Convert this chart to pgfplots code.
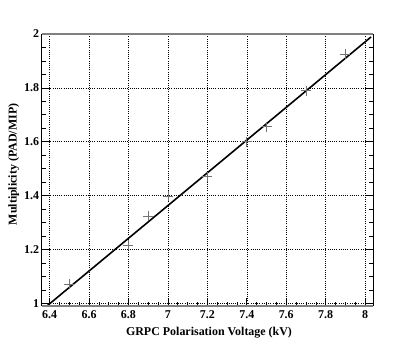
\documentclass[border=0pt]{standalone}
\usepackage{fontspec}
\setmainfont{Liberation Serif}
\usepackage{pgfplots}
\pgfplotsset{compat=1.18}
\begin{document}
\begin{tikzpicture}
\path[use as bounding box] (-41.7bp,-35.3bp) rectangle (373.3bp,305.7bp);
\begin{axis}[
  at={(0,0)}, anchor=south west,
  scale only axis, width=331.3bp, height=271.7bp,
  xmin=6.36, xmax=8.04, ymin=0.991, ymax=2,
  xtick={6.4,6.6,6.8,7.0,7.2,7.4,7.6,7.8,8.0},
  ytick={1,1.2,1.4,1.6,1.8,2},
  xticklabels={6.4,6.6,6.8,7,7.2,7.4,7.6,7.8,8},
  yticklabels={1,1.2,1.4,1.6,1.8,2},
  minor x tick num=3, minor y tick num=3,
  xtick pos=bottom, ytick pos=both,
  tick align=inside,
  major tick length=8bp, minor tick length=4bp,
  every tick/.style={black, line width=0.6bp},
  grid=major,
  major grid style={black, line width=0.5bp, dash pattern=on 1bp off 1.2bp},
  axis line style={black, line width=0.8bp},
  /pgf/number format/assume math mode=true,
  tick label style={font=\bfseries\fontsize{12}{13}\selectfont},
  xticklabel style={yshift=-1bp},
  yticklabel style={xshift=1bp},
  xlabel={GRPC Polarisation Voltage (kV)},
  ylabel={Multiplicity (PAD/MIP)},
  label style={font=\bfseries\fontsize{12}{14}\selectfont},
  xlabel style={at={(rel axis cs:0.505,0)}, anchor=base, yshift=-30bp},
  ylabel style={at={(rel axis cs:0,0.52)}, anchor=center, rotate=0, yshift=28bp},
  clip=false,
]
\addplot[only marks, mark=+, mark size=5bp, color=black!55, mark options={line width=0.7bp}]
coordinates {
(6.5,1.072) (6.8,1.216) (6.9,1.324) (7.0,1.398) (7.2,1.470)
(7.4,1.600) (7.5,1.656) (7.7,1.789) (7.9,1.926)
};
\addplot[black, line width=1.6bp] coordinates {(6.39,0.992) (8.03,1.989)};
\draw[black!50, line width=2bp] (rel axis cs:0,1) -- (rel axis cs:1,1);
\draw[black!50, line width=2bp] (rel axis cs:0,0) -- (rel axis cs:1,0);
\end{axis}
\end{tikzpicture}
\end{document}
